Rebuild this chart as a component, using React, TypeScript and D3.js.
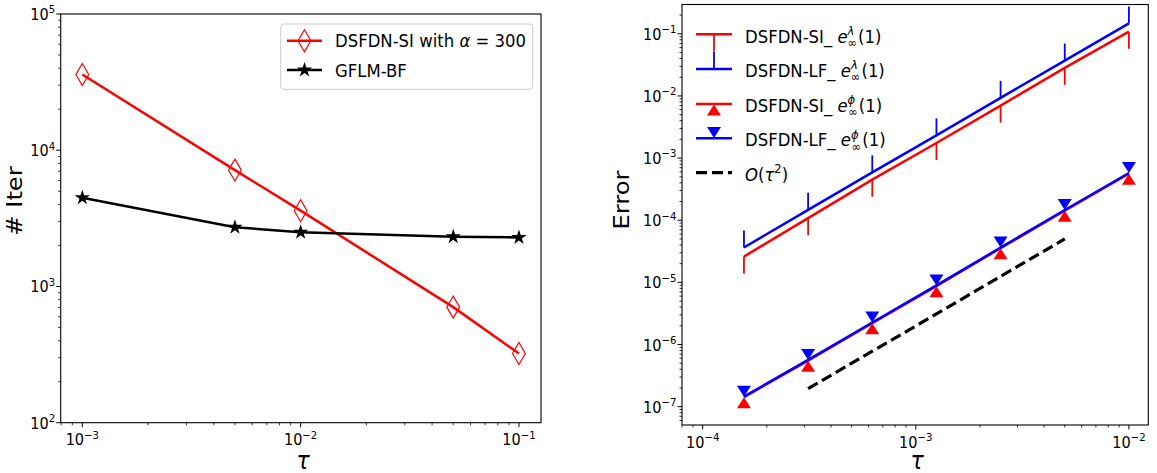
import React from "react";
import * as d3 from "d3";

// ---------------- data ----------------
const tauLeft = [1e-3, 5e-3, 1e-2, 5e-2, 1e-1];
const iterDSFDN = [36000, 7150, 3600, 705, 322];
const iterGFLM = [4480, 2720, 2500, 2320, 2290];

const tauRight = [1 / 6400, 1 / 3200, 1 / 1600, 1 / 800, 1 / 400, 1 / 200, 1 / 100];
const errLambdaSI = [2.6e-5, 1.08e-4, 4.49e-4, 1.75e-3, 7.0e-3, 2.83e-2, 1.08e-1];
const errLambdaLF = [3.64e-5, 1.47e-4, 5.89e-4, 2.32e-3, 9.3e-3, 3.71e-2, 1.47e-1];
const errPhiSI = [1.42e-7, 5.5e-7, 2.2e-6, 8.7e-6, 3.55e-5, 1.42e-4, 5.6e-4];
const errPhiLF = [1.45e-7, 5.66e-7, 2.26e-6, 8.93e-6, 3.63e-5, 1.46e-4, 5.75e-4];
const tauRef = [1 / 3200, 1 / 1600, 1 / 800, 1 / 400, 1 / 200];
const errRef = [1.95e-7, 7.8e-7, 3.1e-6, 1.25e-5, 5.0e-5];

const leftXTicks = [1e-3, 1e-2, 1e-1];
const leftXTickExp = ["−3", "−2", "−1"];
const leftYTicks = [1e2, 1e3, 1e4, 1e5];
const leftYTickExp = ["2", "3", "4", "5"];
const rightXTicks = [1e-4, 1e-3, 1e-2];
const rightXTickExp = ["−4", "−3", "−2"];
const rightYTicks = [1e-7, 1e-6, 1e-5, 1e-4, 1e-3, 1e-2, 1e-1];
const rightYTickExp = ["−7", "−6", "−5", "−4", "−3", "−2", "−1"];

// ---------------- styling ----------------
const FONT = "DejaVu Sans";
const SY = 1.1;
const TICK_FS = 14.5;
const LEG_FS = 16.5;
const LABEL_FS = 22;

function minorTicks(domain: number[]) {
  const out: number[] = [];
  const lo = Math.floor(Math.log10(domain[0]));
  const hi = Math.ceil(Math.log10(domain[1]));
  for (let e = lo; e <= hi; e++) {
    for (let m = 2; m <= 9; m++) {
      const v = m * Math.pow(10, e);
      if (v >= domain[0] && v <= domain[1]) out.push(v);
    }
  }
  return out;
}

function T({ x, y, children, anchor = "start", fs, rotate = false, style = {} }: any) {
  const tr = rotate
    ? `translate(${x},${y}) rotate(-90) scale(${SY},1)`
    : `translate(${x},${y}) scale(1,${SY})`;
  return (
    <text transform={tr} textAnchor={anchor} fontFamily={FONT} fontSize={fs} fill="#000" style={style}>
      {children}
    </text>
  );
}

function Pow10({ x, y, exp, anchor }: any) {
  return (
    <T x={x} y={y} anchor={anchor} fs={TICK_FS}>
      10
      <tspan fontSize={TICK_FS * 0.7} dy={-6}>
        {exp}
      </tspan>
    </T>
  );
}

function Axes({ xs, ys, xTicks, xExp, yTicks, yExp }: any) {
  const [x0, x1] = xs.range();
  const [y1, y0] = ys.range();
  const xMin = minorTicks(xs.domain());
  const yMin = minorTicks(ys.domain());
  return (
    <g>
      <rect x={x0} y={y0} width={x1 - x0} height={y1 - y0} fill="none" stroke="#000" strokeWidth={1.1} />
      {xMin.map((v: number, i: number) => (
        <line key={"xm" + i} x1={xs(v)} x2={xs(v)} y1={y1} y2={y1 + 2.5} stroke="#000" strokeWidth={0.8} />
      ))}
      {yMin.map((v: number, i: number) => (
        <line key={"ym" + i} x1={x0} x2={x0 - 2.5} y1={ys(v)} y2={ys(v)} stroke="#000" strokeWidth={0.8} />
      ))}
      {xTicks.map((v: number, i: number) => (
        <g key={"xt" + i}>
          <line x1={xs(v)} x2={xs(v)} y1={y1} y2={y1 + 4.5} stroke="#000" strokeWidth={1} />
          <Pow10 x={xs(v)} y={y1 + 22.5} exp={xExp[i]} anchor="middle" />
        </g>
      ))}
      {yTicks.map((v: number, i: number) => (
        <g key={"yt" + i}>
          <line x1={x0} x2={x0 - 4.5} y1={ys(v)} y2={ys(v)} stroke="#000" strokeWidth={1} />
          <Pow10 x={x0 - 5.5} y={ys(v) + 6} exp={yExp[i]} anchor="end" />
        </g>
      ))}
    </g>
  );
}

const diamondPath = "M0,-11 L6.4,0 L0,11 L-6.4,0 Z";
const starPath = (() => {
  const pts: string[] = [];
  const R = 8, r = 8 * 0.382;
  for (let i = 0; i < 10; i++) {
    const a = (Math.PI / 5) * i - Math.PI / 2;
    const rr = i % 2 === 0 ? R : r;
    pts.push(`${(rr * Math.cos(a)).toFixed(2)},${(rr * Math.sin(a)).toFixed(2)}`);
  }
  return "M" + pts.join("L") + "Z";
})();
const caretUp = "M0,0 L7,11 L-7,11 Z";
const caretDown = "M0,0 L7,-11 L-7,-11 Z";

export default function App() {
  // Left panel
  const lx = d3.scaleLog().domain([7.96e-4, 0.1262]).range([60.7, 541]);
  const ly = d3.scaleLog().domain([100, 1e5]).range([422.7, 14]);
  // Right panel
  const rx = d3.scaleLog().domain([8.0e-5, 0.01233]).range([682, 1148.3]);
  const ry = d3.scaleLog().domain([5.07e-8, 0.296]).range([425, 4.5]);

  const lineL = (ys: number[]) => d3.line<number>().x((_, i) => lx(tauLeft[i])).y((v) => ly(v))(ys) as string;
  const lineR = (xsArr: number[], ys: number[]) =>
    d3.line<number>().x((_, i) => rx(xsArr[i])).y((v) => ry(v))(ys) as string;

  return (
    <svg width={1157} height={473} style={{ display: "block", position: "absolute", left: 0, top: 0, background: "#fff" }}>
      <rect width={1157} height={473} fill="#fff" />
      {/* ---------- Left panel ---------- */}
      <Axes xs={lx} ys={ly} xTicks={leftXTicks} xExp={leftXTickExp} yTicks={leftYTicks} yExp={leftYTickExp} />
      <path d={lineL(iterDSFDN)} fill="none" stroke="#ff0000" strokeWidth={2.5} />
      {iterDSFDN.map((v, i) => (
        <path key={"d" + i} d={diamondPath} transform={`translate(${lx(tauLeft[i])},${ly(v)})`} fill="none" stroke="#ff0000" strokeWidth={1.2} />
      ))}
      <path d={lineL(iterGFLM)} fill="none" stroke="#000" strokeWidth={2.5} />
      {iterGFLM.map((v, i) => (
        <path key={"s" + i} d={starPath} transform={`translate(${lx(tauLeft[i])},${ly(v)})`} fill="#000" />
      ))}
      {/* left legend */}
      <rect x={280.7} y={24} width={252} height={65.3} rx={3} fill="#fff" fillOpacity={0.8} stroke="#cccccc" strokeWidth={1} />
      <line x1={287} x2={322} y1={40.7} y2={40.7} stroke="#ff0000" strokeWidth={2.5} />
      <path d={diamondPath} transform="translate(304.5,40.7)" fill="none" stroke="#ff0000" strokeWidth={1.2} />
      <line x1={287} x2={322} y1={70} y2={70} stroke="#000" strokeWidth={2.5} />
      <path d={starPath} transform="translate(304.5,70)" fill="#000" />
      <T x={335} y={46.7} fs={LEG_FS}>
        DSFDN-SI with <tspan fontStyle="italic">α</tspan> = 300
      </T>
      <T x={335} y={76.7} fs={LEG_FS}>
        GFLM-BF
      </T>
      {/* labels */}
      <T x={22} y={201} fs={LABEL_FS} anchor="middle" rotate>
        # Iter
      </T>
      <T x={303} y={469} fs={LABEL_FS} anchor="middle">
        <tspan fontStyle="italic">τ</tspan>
      </T>

      {/* ---------- Right panel ---------- */}
      <Axes xs={rx} ys={ry} xTicks={rightXTicks} xExp={rightXTickExp} yTicks={rightYTicks} yExp={rightYTickExp} />
      <path d={lineR(tauRight, errLambdaSI)} fill="none" stroke="#ff0000" strokeWidth={2.5} />
      {errLambdaSI.map((v, i) => (
        <line key={"ls" + i} x1={rx(tauRight[i])} x2={rx(tauRight[i])} y1={ry(v)} y2={ry(v) + 17} stroke="#ff0000" strokeWidth={1.8} />
      ))}
      <path d={lineR(tauRight, errLambdaLF)} fill="none" stroke="#0000ff" strokeWidth={2.5} />
      {errLambdaLF.map((v, i) => (
        <line key={"ll" + i} x1={rx(tauRight[i])} x2={rx(tauRight[i])} y1={ry(v)} y2={ry(v) - 17} stroke="#0000ff" strokeWidth={1.8} />
      ))}
      <path d={lineR(tauRight, errPhiSI)} fill="none" stroke="#ff0000" strokeWidth={2.5} />
      {errPhiSI.map((v, i) => (
        <path key={"ps" + i} d={caretUp} transform={`translate(${rx(tauRight[i])},${ry(v)})`} fill="#ff0000" />
      ))}
      <path d={lineR(tauRight, errPhiLF)} fill="none" stroke="#0000ff" strokeWidth={2.5} />
      {errPhiLF.map((v, i) => (
        <path key={"pl" + i} d={caretDown} transform={`translate(${rx(tauRight[i])},${ry(v)})`} fill="#0000ff" />
      ))}
      <path d={lineR(tauRef, errRef)} fill="none" stroke="#000" strokeWidth={3.2} strokeDasharray="11,5" />

      {/* right legend */}
      <line x1={696} x2={732} y1={34.3} y2={34.3} stroke="#ff0000" strokeWidth={2.5} />
      <line x1={714} x2={714} y1={34.3} y2={51.5} stroke="#ff0000" strokeWidth={1.8} />
      <line x1={696} x2={732} y1={69} y2={69} stroke="#0000ff" strokeWidth={2.5} />
      <line x1={714} x2={714} y1={69} y2={51.8} stroke="#0000ff" strokeWidth={1.8} />
      <line x1={696} x2={732} y1={104} y2={104} stroke="#ff0000" strokeWidth={2.5} />
      <path d={caretUp} transform="translate(714,104.5)" fill="#ff0000" />
      <line x1={696} x2={732} y1={138.3} y2={138.3} stroke="#0000ff" strokeWidth={2.5} />
      <path d={caretDown} transform="translate(714,138)" fill="#0000ff" />
      <line x1={696} x2={732} y1={172.7} y2={172.7} stroke="#000" strokeWidth={3.2} strokeDasharray="11,5" />

      {[
        { y: 42.5, name: "DSFDN-SI_ ", sup: "λ" },
        { y: 77, name: "DSFDN-LF_ ", sup: "λ" },
        { y: 111.7, name: "DSFDN-SI_ ", sup: "ϕ" },
        { y: 146.2, name: "DSFDN-LF_ ", sup: "ϕ" },
      ].map((r, i) => (
        <T key={"lt" + i} x={745} y={r.y} fs={LEG_FS}>
          {r.name}
          <tspan fontStyle="italic">e</tspan>
          <tspan fontStyle="italic" fontSize={LEG_FS * 0.7} dy={-7}>
            {r.sup}
          </tspan>
          <tspan fontSize={LEG_FS * 0.7} dx={-LEG_FS * 0.7 * 0.6} dy={11}>
            ∞
          </tspan>
          <tspan dy={-4} dx={1}>
            (1)
          </tspan>
        </T>
      ))}
      <T x={745} y={180.8} fs={LEG_FS}>
        <tspan fontStyle="italic">O</tspan>(<tspan fontStyle="italic">τ</tspan>
        <tspan fontSize={LEG_FS * 0.7} dy={-7}>
          2
        </tspan>
        <tspan dy={7}>)</tspan>
      </T>
      <T x={629} y={200} fs={LABEL_FS} anchor="middle" rotate>
        Error
      </T>
      <T x={917} y={469} fs={LABEL_FS} anchor="middle">
        <tspan fontStyle="italic">τ</tspan>
      </T>
    </svg>
  );
}
